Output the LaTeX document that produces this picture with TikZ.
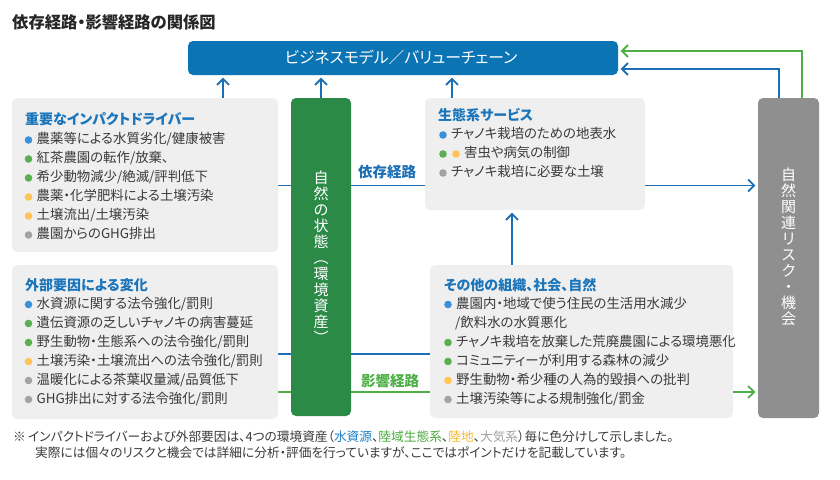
\documentclass[tikz,border=0pt]{standalone}
\usepackage{fontspec}
\setmainfont{Noto Sans CJK JP}[RawFeature=+palt]
\usetikzlibrary{arrows.meta,backgrounds}
\definecolor{topblue}{HTML}{0A74B5}
\definecolor{connblue}{HTML}{1C6FB5}
\definecolor{hdblue}{HTML}{1B75BB}
\definecolor{natgreen}{HTML}{2C8A47}
\definecolor{conngreen}{HTML}{4DAF45}
\definecolor{riskgray}{HTML}{8F8F8F}
\definecolor{panegray}{HTML}{EFEFEF}
\definecolor{txtc}{HTML}{3A3A3A}
\definecolor{dblue}{HTML}{3B90DA}
\definecolor{dgreen}{HTML}{5AAF50}
\definecolor{dyellow}{HTML}{FFC455}
\definecolor{dgray}{HTML}{A3A3A3}
\definecolor{fnblue}{HTML}{1A7FC6}
\definecolor{fngreen}{HTML}{4AAB3D}
\definecolor{fnyellow}{HTML}{F5B82E}
\definecolor{fngray}{HTML}{A0A0A0}
\tikzset{
  pane/.style={fill=panegray, rounded corners=5pt, inner sep=0pt},
  bigbox/.style={rounded corners=5pt, inner sep=0pt},
  txt/.style={anchor=west, inner sep=0pt, text height=0.88em, text depth=0.12em,
    font=\fontsize{13.4}{16}\selectfont, text=txtc},
  hd/.style={txt, font=\fontsize{14}{16}\selectfont\bfseries, text=hdblue},
  fn/.style={txt, font=\fontsize{12.7}{14}\selectfont, text=txtc},
  vtext/.style={inner sep=0pt, align=center, text=white, font=\fontsize{15}{16}\selectfont},
  bconn/.style={draw=connblue, line width=1.8pt},
  gconn/.style={draw=conngreen, line width=1.8pt},
  arr/.style={-{Straight Barb[length=6pt,width=12pt]}, shorten >=2.5pt},
}
\newcommand\bitem[5]{%
  \fill[#4] (#2,#3) circle[radius=3.8pt];
  \node[txt] (#1) at (#2+8,#3) {#5};}
\begin{document}
\begin{tikzpicture}[x=1pt,y=-1pt]
\useasboundingbox (0,0) rectangle (840,479);
% title
\node[txt, font=\fontsize{16.3}{18}\selectfont\bfseries, text=black!85] (title) at (12,25) {依存経路・影響経路の関係図};
% boxes
\node[bigbox, fill=topblue, minimum width=430pt, minimum height=34pt] (top) at (403,58) {};
\node[text=white, font=\fontsize{15.8}{16}\selectfont, inner sep=0pt] (toplbl) at (401,57) {ビジネスモデル／バリューチェーン};
\node[pane, minimum width=266pt, minimum height=154pt] (box1) at (145,175) {};
\node[pane, minimum width=266pt, minimum height=154pt] (box2) at (145,342) {};
\node[pane, minimum width=220pt, minimum height=112pt] (eco) at (535,154) {};
\node[pane, minimum width=303pt, minimum height=153pt] (other) at (581.5,341.5) {};
\node[bigbox, fill=natgreen, minimum width=60pt, minimum height=318pt] (nat) at (321,257) {};
\node[bigbox, fill=riskgray, minimum width=61pt, minimum height=320pt] (risk) at (788.5,258) {};
\node[vtext] (natlbl) at (321,257) {自\\然\\の\\状\\態\\︵\\環\\境\\資\\産\\︶};
\node[vtext] (risklbl) at (788.5,246.5) {自\\然\\関\\連\\リ\\ス\\ク\\・\\機\\会};
% level coordinates
\coordinate (L1) at (0,185.5);
\coordinate (L2) at (0,354);
\coordinate (L3) at (0,392);
\coordinate (X1) at (223,0);
\coordinate (X2) at (452,0);
\coordinate (X3) at (512,0);
\coordinate (XB) at (779,0);
\coordinate (XG) at (802,0);
\coordinate (YB) at (0,69);
\coordinate (YG) at (0,51);
% connectors (behind boxes)
\begin{scope}[on background layer]
\draw[bconn] (box1.east |- L1) -- (eco.west |- L1);
\draw[bconn] (box2.east |- L2) -- (other.west |- L2);
\draw[gconn] (box2.east |- L3) -- (other.west |- L3);
\end{scope}
\draw[bconn, arr] (eco.east |- L1) -- (risk.west |- L1);
\draw[gconn, arr] (other.east |- L3) -- (risk.west |- L3);
\draw[bconn, arr] (other.north -| X3) -- (eco.south -| X3);
\draw[bconn, arr] (box1.north -| X1) -- (top.south -| X1);
\draw[bconn, arr] (nat.north) -- (top.south -| nat.north);
\draw[bconn, arr] (eco.north -| X2) -- (top.south -| X2);
\draw[bconn, arr] (risk.north -| XB) -- (XB |- YB) -- (top.east |- YB);
\draw[gconn, arr] (risk.north -| XG) -- (XG |- YG) -- (top.east |- YG);
% path labels
\node[inner sep=0pt, font=\fontsize{14.5}{16}\selectfont\bfseries, text=connblue] (dep) at (387,172) {依存経路};
\node[inner sep=0pt, font=\fontsize{14.5}{16}\selectfont\bfseries, text=conngreen] (imp) at (390,381) {影響経路};
% box1
\node[hd] (h1) at (25,121) {重要なインパクトドライバー};
\bitem{a1}{28.5}{140}{dblue}{農薬等による水質劣化/健康被害}
\bitem{a2}{28.5}{159}{dgreen}{紅茶農園の転作/放棄、}
\bitem{a3}{28.5}{178}{dgreen}{希少動物減少/絶滅/評判低下}
\bitem{a4}{28.5}{197}{dyellow}{農薬・化学肥料による土壌汚染}
\bitem{a5}{28.5}{216}{dyellow}{土壌流出/土壌汚染}
\bitem{a6}{28.5}{235}{dgray}{農園からのGHG排出}
% box2
\node[hd] (h2) at (25,287) {外部要因による変化};
\bitem{b1}{28.5}{304.5}{dblue}{水資源に関する法令強化/罰則}
\bitem{b2}{28.5}{323.5}{dgreen}{遺伝資源の乏しいチャノキの病害蔓延}
\bitem{b3}{28.5}{342.5}{dgreen}{野生動物・生態系への法令強化/罰則}
\bitem{b4}{28.5}{361.5}{dyellow}{土壌汚染・土壌流出への法令強化/罰則}
\bitem{b5}{28.5}{380.5}{dgray}{温暖化による茶葉収量減/品質低下}
\bitem{b6}{28.5}{399.5}{dgray}{GHG排出に対する法令強化/罰則}
% eco
\node[hd] (h3) at (438,117) {生態系サービス};
\bitem{c1}{443}{135}{dblue}{チャノキ栽培のための地表水}
\fill[dgreen] (443,154) circle[radius=3.8pt];
\bitem{c2}{456}{154}{dyellow}{害虫や病気の制御}
\bitem{c3}{443}{173}{dgray}{チャノキ栽培に必要な土壌}
% other
\node[hd] (h4) at (444,287) {その他の組織、社会、自然};
\bitem{d1}{448}{304.5}{dblue}{農園内・地域で使う住民の生活用水減少}
\node[txt] (d1b) at (455,323.5) {/飲料水の水質悪化};
\bitem{d2}{448}{342.5}{dgreen}{チャノキ栽培を放棄した荒廃農園による環境悪化}
\bitem{d3}{448}{361.5}{dgreen}{コミュニティーが利用する森林の減少}
\bitem{d4}{448}{380.5}{dyellow}{野生動物・希少種の人為的毀損への批判}
\bitem{d5}{448}{399.5}{dgray}{土壌汚染等による規制強化/罰金}
% footnote
\node[fn] (fn0) at (13,438) {※};
\node[fn] (fn1) at (28,438) {インパクトドライバーおよび外部要因は、4つの環境資産（\textcolor{fnblue}{水資源}、\textcolor{fngreen}{陸域生態系}、\textcolor{fnyellow}{陸地}、\textcolor{fngray}{大気系}）毎に色分けして示しました。};
\node[fn] (fn2) at (35,454) {実際には個々のリスクと機会では詳細に分析・評価を行っていますが、ここではポイントだけを記載しています。};
\end{tikzpicture}
\end{document}
